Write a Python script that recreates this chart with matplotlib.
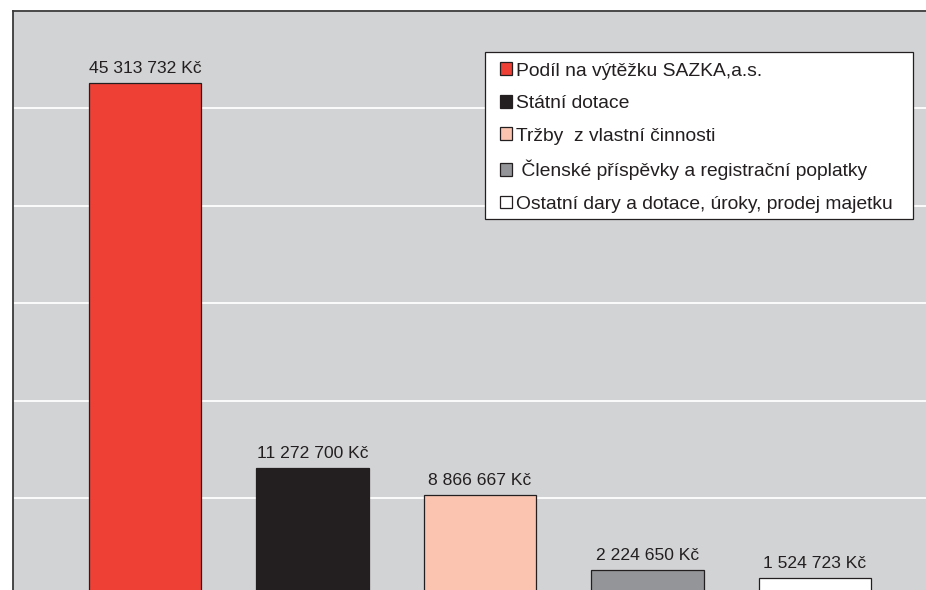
import matplotlib
matplotlib.use("Agg")
import matplotlib.pyplot as plt
from matplotlib.patches import Patch, Rectangle
import numpy as np

plt.rcParams['font.family'] = ['Liberation Sans', 'DejaVu Sans']

categories = ["Podíl na výtěžku SAZKA,a.s.",
              "Státní dotace",
              "Tržby  z vlastní činnosti",
              " Členské příspěvky a registrační poplatky",
              "Ostatní dary a dotace, úroky, prodej majetku"]
values = [45313732, 11272700, 8866667, 2224650, 1524723]
labels = ["45 313 732 Kč", "11 272 700 Kč", "8 866 667 Kč", "2 224 650 Kč", "1 524 723 Kč"]
colors = ["#ee4035", "#231f20", "#fbc4b0", "#939598", "#ffffff"]

W, H = 926, 590
fig = plt.figure(figsize=(W / 100, H / 100), dpi=100)
fig.patch.set_facecolor("white")

# axes extends beyond the visible image (cropped chart)
left_px, right_px, top_px, bottom_px = 13, 947, 11, 595.5
ax = fig.add_axes([left_px / W, (H - bottom_px) / H,
                   (right_px - left_px) / W, (bottom_px - top_px) / H])
ax.set_facecolor("#d2d3d5")

x = np.arange(len(values))
ax.bar(x, values, width=0.67, color=colors, edgecolor="#231f20", linewidth=0.9, zorder=3)

ymax = 51.68e6
ax.set_ylim(0, ymax)
ax.set_xlim(-0.788, 4.788)
ax.set_yticks(np.linspace(0, ymax, 7))
ax.yaxis.grid(True, color="white", linewidth=1.3, zorder=0)
ax.set_axisbelow(True)
ax.tick_params(left=False, bottom=False, labelleft=False, labelbottom=False)
for s in ["right", "bottom"]:
    ax.spines[s].set_visible(False)
for s in ["left", "top"]:
    ax.spines[s].set_color("#3a3a3a")
    ax.spines[s].set_linewidth(1.3)

for xi, v, lab in zip(x, values, labels):
    ax.annotate(lab, (xi, v), xytext=(0, 7.2), textcoords="offset points",
                ha="center", va="baseline", fontsize=12.6, color="#231f20", zorder=4)

# legend frame
frame = Rectangle((485 / W, 1 - 219 / H), 428 / W, 167 / H, transform=fig.transFigure,
                  facecolor="white", edgecolor="#231f20", linewidth=0.9,
                  zorder=5, clip_on=False)
ax.add_patch(frame)

handles = [Patch(facecolor=c, edgecolor="#231f20", linewidth=0.9) for c in colors]
leg = ax.legend(handles, categories, loc="upper left",
                bbox_to_anchor=(500 / W, 1 - 62.5 / H), bbox_transform=fig.transFigure,
                fontsize=13.9, frameon=False,
                handlelength=0.62, handleheight=0.62, handletextpad=0.2,
                labelspacing=0.80, borderpad=0, borderaxespad=0)
leg.set_zorder(6)
for t in leg.get_texts():
    t.set_color("#231f20")

fig.savefig("out.png", dpi=100)
